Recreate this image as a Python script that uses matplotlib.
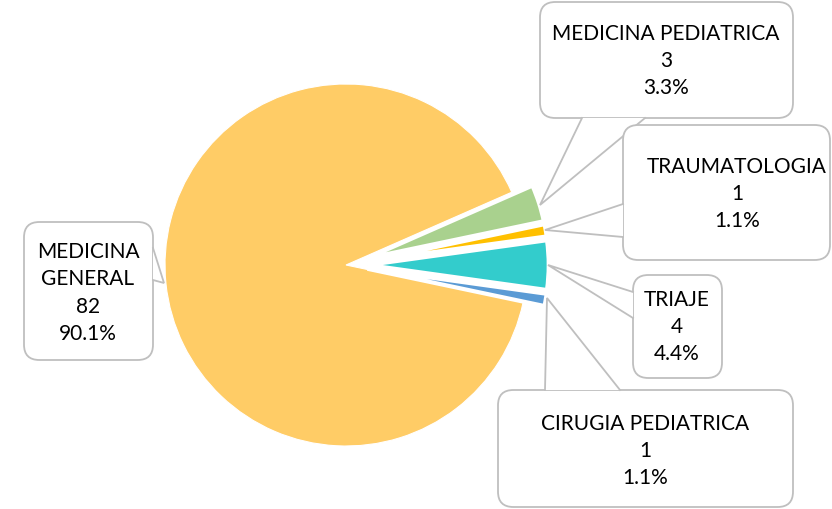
import matplotlib
matplotlib.use("Agg")
import matplotlib.pyplot as plt
from matplotlib.patches import FancyBboxPatch, Polygon

categories = ["MEDICINA\nGENERAL", "MEDICINA PEDIATRICA", "TRAUMATOLOGIA", "TRIAJE", "CIRUGIA PEDIATRICA"]
values = [82, 3, 1, 4, 1]
colors = ["#FFCC66", "#A9D18E", "#FFC000", "#33CCCC", "#5B9BD5"]

W, H = 832, 509
CX, CY, R = 346, 265, 181  # pie centre / radius in pixels


def px(x, y):
    # pixel coords (origin top-left) -> data coords
    return (x - CX) / R, (CY - y) / R


fig = plt.figure(figsize=(W / 100, H / 100), dpi=100)
ax = fig.add_axes([0, 0, 1, 1])
wedges, _ = ax.pie(values, colors=colors, startangle=-11.9, counterclock=False,
                   explode=[0, 0.12, 0.12, 0.12, 0.12], radius=1,
                   wedgeprops=dict(linewidth=3, edgecolor="white"))
wedges[0].set_linewidth(0.8)
ax.set_xlim(-CX / R, (W - CX) / R)
ax.set_ylim(-(H - CY) / R, CY / R)
ax.set_aspect("equal")
ax.axis("off")

total = sum(values)
# box: (x0, y0, x1, y1), tail: (base1, tip, base2), text centre
callouts = [
    ((24, 222, 153, 360), ((153, 248), (164, 283), (153, 280)), (88, 293)),
    ((540, 2, 793, 118), ((582, 118), (540, 205), (645, 118)), (666, 61)),
    ((623, 125, 830, 260), ((623, 204), (545, 230), (623, 237)), (737, 194)),
    ((633, 275, 722, 378), ((633, 292), (548, 265), (633, 318)), (677, 327)),
    ((498, 390, 793, 507), ((545, 390), (547, 298), (620, 390)), (645, 451)),
]

edge = "#BFBFBF"
for i, (box, tail, tpos) in enumerate(callouts):
    x0, y0 = px(box[0], box[3])
    x1, y1 = px(box[2], box[1])
    ax.add_patch(FancyBboxPatch((x0, y0), x1 - x0, y1 - y0,
                                boxstyle="round,pad=0,rounding_size=0.085",
                                facecolor="white", edgecolor=edge, linewidth=1.3, zorder=3 + i * 0.1))
    b1, tip, b2 = [px(*p) for p in tail]
    ax.add_patch(Polygon([b1, tip, b2], closed=True, facecolor="white",
                         edgecolor="none", zorder=3.05 + i * 0.1))
    ax.plot([b1[0], tip[0], b2[0]], [b1[1], tip[1], b2[1]], color=edge, lw=1.3,
            zorder=3.06 + i * 0.1, solid_joinstyle="miter")
    label = f"{categories[i]}\n{values[i]}\n{values[i] / total * 100:.1f}%"
    tx, ty = px(*tpos)
    ax.text(tx, ty, label, ha="center", va="center", fontsize=15,
            family="Lato", linespacing=1.45, color="black", zorder=4 + i * 0.1)

fig.savefig("out.png", dpi=100)
